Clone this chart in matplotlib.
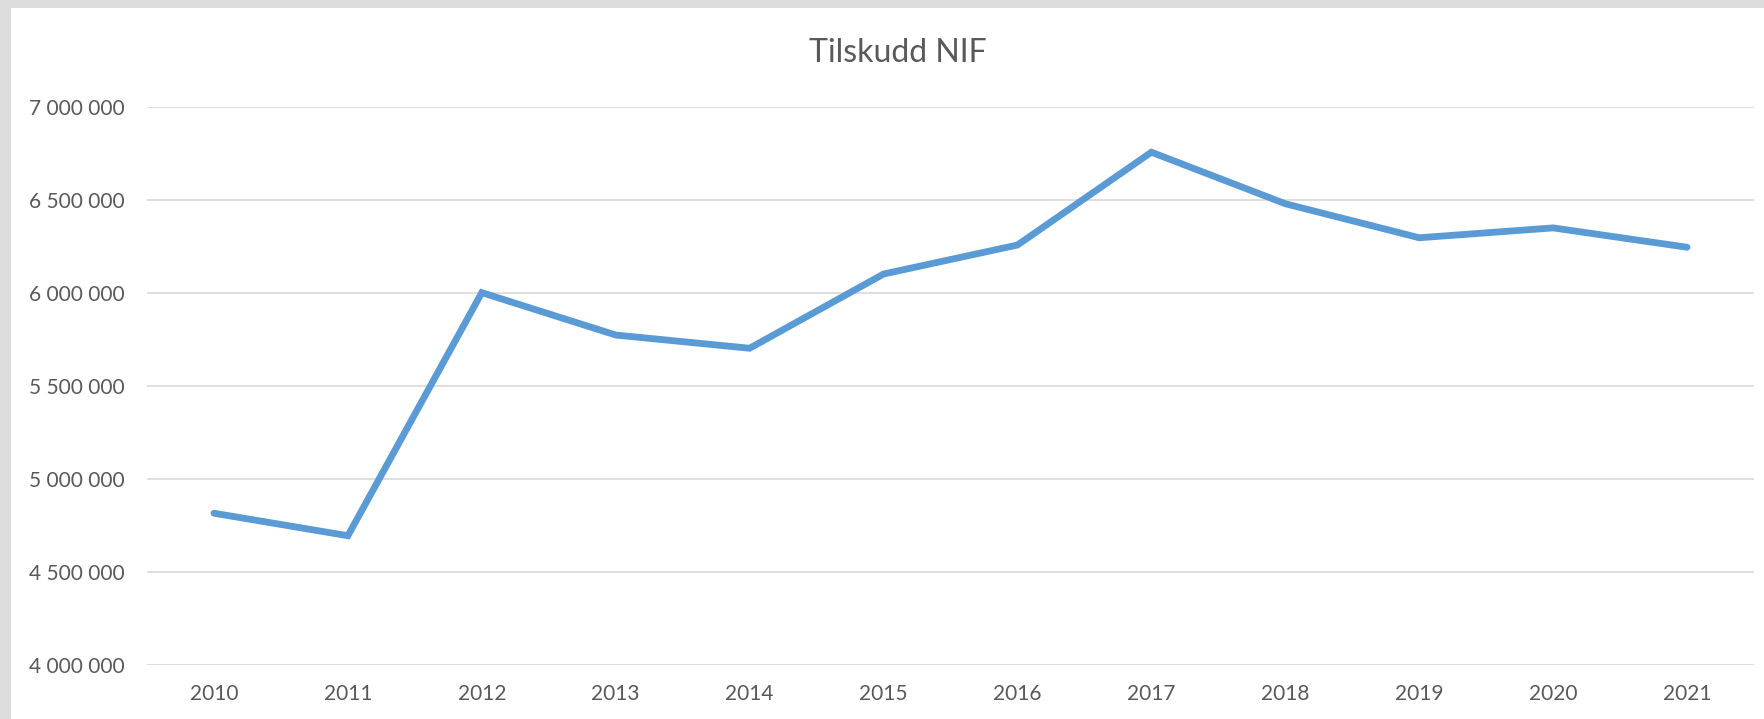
import numpy as np
import matplotlib
matplotlib.use("Agg")
import matplotlib.pyplot as plt
from matplotlib.patches import Rectangle
from matplotlib.ticker import FuncFormatter, MultipleLocator

# data
years = ["2010", "2011", "2012", "2013", "2014", "2015",
         "2016", "2017", "2018", "2019", "2020", "2021"]
tilskudd = [4816000, 4695000, 6002000, 5774000, 5703000, 6102000,
            6258000, 6757000, 6480000, 6297000, 6350000, 6246000]
title = "Tilskudd NIF"

plt.rcParams['font.family'] = ['Lato', 'DejaVu Sans']
text_col = '#595959'

fig = plt.figure(figsize=(17.65, 7.19), dpi=100)
fig.patch.set_facecolor('#DCDCDC')
# white chart area, screenshot border left and top
fig.patches.append(Rectangle((11/1765, 0), 1, 1 - 8/719, transform=fig.transFigure,
                             facecolor='white', edgecolor='none', zorder=-10))

ax = fig.add_axes([147/1765, 1 - 665/719, (1754 - 147)/1765, (665 - 107)/719])
ax.set_facecolor('none')

x = np.arange(len(years))
ax.plot(x, tilskudd, color='#5B9BD5', lw=4.9, solid_joinstyle='miter',
        solid_capstyle='round', zorder=3)

ax.set_xlim(-0.5, len(years) - 0.5)
ax.set_ylim(4000000, 7000000)
ax.yaxis.set_major_locator(MultipleLocator(500000))
ax.yaxis.set_major_formatter(FuncFormatter(lambda v, p: f"{int(v):,}".replace(",", " ")))
ax.set_xticks(x)
ax.set_xticklabels(years)

ax.grid(axis='y', color='#D9D9D9', lw=1.2, zorder=1)
ax.set_axisbelow(True)
for s in ax.spines.values():
    s.set_visible(False)
ax.tick_params(axis='both', length=0, labelsize=15, colors=text_col)
ax.tick_params(axis='y', pad=16)
ax.tick_params(axis='x', pad=14)

fig.text(898/1765, 1 - 53/719, title, ha='center', va='center',
         fontsize=23, color=text_col)

fig.savefig("out.png", dpi=100, facecolor=fig.get_facecolor())
